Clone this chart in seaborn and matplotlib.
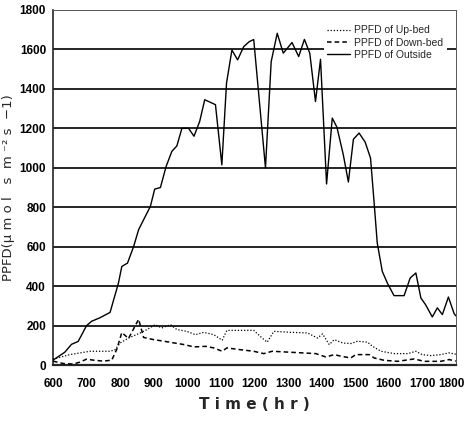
import matplotlib
matplotlib.use("Agg")
import matplotlib.pyplot as plt
import matplotlib.transforms as mtransforms
import seaborn as sns

# PPFD readings (hours of day, umol m-2 s-1)
outside_t = [6.0, 6.35, 6.55, 6.75, 7.0, 7.15, 7.4, 7.7, 7.95, 8.05, 8.22, 8.4, 8.55, 8.7, 8.9,
             9.03, 9.2, 9.37, 9.54, 9.69, 9.84, 10.04, 10.2, 10.37, 10.52, 10.84, 11.03, 11.17,
             11.33, 11.5, 11.68, 11.85, 11.98, 12.33, 12.5, 12.68, 12.86, 13.12, 13.32, 13.49,
             13.65, 13.82, 13.97, 14.15, 14.32, 14.46, 14.65, 14.8, 14.95, 15.12, 15.3, 15.46,
             15.56, 15.66, 15.81, 15.96, 16.16, 16.46, 16.64, 16.81, 16.96, 17.1, 17.3, 17.45,
             17.6, 17.78, 17.95, 18.0]
outside_v = [25, 65, 105, 120, 200, 222, 240, 267, 416, 500, 517, 600, 686, 737, 804,
             892, 900, 1007, 1083, 1111, 1200, 1200, 1160, 1235, 1345, 1320, 1015, 1430,
             1597, 1547, 1614, 1640, 1650, 1000, 1538, 1682, 1581, 1635, 1564, 1651,
             1581, 1336, 1550, 918, 1252, 1205, 1065, 928, 1145, 1176, 1130, 1049,
             838, 619, 475, 416, 352, 352, 441, 467, 340, 306, 244, 290,
             256, 345, 261, 250]

upbed_t = [6.0, 6.5, 7.1, 7.7, 7.85, 8.0, 8.25, 8.6, 8.8, 9.04, 9.24, 9.5, 9.69, 9.99, 10.24,
           10.49, 10.79, 11.04, 11.18, 11.6, 11.98, 12.23, 12.38, 12.58, 13.08, 13.58, 13.88,
           14.03, 14.23, 14.38, 14.63, 14.87, 15.07, 15.37, 15.52, 15.77, 16.17, 16.57, 16.81,
           17.0, 17.25, 17.55, 17.8, 18.0]
upbed_v = [30, 53, 70, 70, 78, 112, 137, 163, 180, 205, 188, 205, 180, 171, 154,
           166, 154, 126, 176, 176, 176, 137, 116, 171, 166, 163, 137,
           158, 104, 129, 112, 109, 121, 116, 95, 70, 58, 58, 70,
           53, 48, 53, 62, 55]

downbed_t = [6.0, 6.3, 6.6, 6.8, 7.0, 7.2, 7.5, 7.75, 7.9, 8.05, 8.25, 8.55, 8.7, 9.0, 9.3,
             9.9, 10.2, 10.54, 10.79, 11.04, 11.18, 11.58, 11.98, 12.28, 12.53, 13.08, 13.83,
             14.13, 14.38, 14.58, 14.87, 15.02, 15.42, 15.57, 15.87, 16.27, 16.76, 17.06,
             17.55, 17.8, 18.0]
downbed_v = [20, 8, 5, 15, 30, 25, 20, 25, 80, 165, 135, 232, 140, 129, 121,
             104, 92, 95, 87, 70, 87, 78, 70, 58, 70, 65, 58,
             41, 53, 45, 36, 53, 53, 36, 24, 19, 31, 19,
             19, 28, 20]

hour_ticks = list(range(6, 19))
hour_labels = ["%d00" % h for h in hour_ticks]
ppfd_ticks = list(range(0, 2000, 200))

sns.set_style("white")
plt.rcParams["font.family"] = ["Liberation Sans", "DejaVu Sans"]

fig = plt.figure(figsize=(4.67, 4.25), dpi=100)
ax = fig.add_axes([0.1135, 0.141, 0.8625, 0.8355])

# horizontal reference lines
for v in ppfd_ticks[1:-1]:
    ax.axhline(v, color="black", lw=1.2, zorder=1)

sns.lineplot(x=upbed_t, y=upbed_v, ax=ax, color="black", lw=0.9, linestyle=(0, (1, 1.5)),
             label="PPFD of Up-bed", sort=False, zorder=3)
sns.lineplot(x=downbed_t, y=downbed_v, ax=ax, color="black", lw=1.1, linestyle=(0, (3, 2)),
             label="PPFD of Down-bed", sort=False, zorder=3)
sns.lineplot(x=outside_t, y=outside_v, ax=ax, color="black", lw=1.0,
             label="PPFD of Outside", sort=False, zorder=3)

ax.set_xlim(6, 18)
ax.set_ylim(0, 1800)
ax.set_xticks(hour_ticks)
ax.set_xticklabels(hour_labels)
ax.set_yticks(ppfd_ticks)
ax.tick_params(axis="both", direction="in", length=4, width=1, labelsize=8.5, pad=9,
               colors="black")
ax.tick_params(axis="y", length=0, pad=5)
for lbl in ax.get_xticklabels() + ax.get_yticklabels():
    lbl.set_fontweight("bold")

# keep the last hour label inside the canvas
last = ax.get_xticklabels()[-1]
last.set_transform(last.get_transform() +
                   mtransforms.ScaledTranslation(-0.04, 0, fig.dpi_scale_trans))

ax.spines["left"].set_linewidth(1.2)
ax.spines["bottom"].set_linewidth(1.6)
for s in ["top", "right"]:
    ax.spines[s].set_linewidth(0.7)
    ax.spines[s].set_color("#555555")
    ax.spines[s].set_linestyle((0, (4, 1)))

ax.set_xlabel("T i m e ( h r )", fontsize=11, fontweight="bold",
              family=["DejaVu Sans"], labelpad=5)
ax.set_ylabel("PPFD(μ m o l   s  m ⁻² s  −1)", fontsize=9.5, family=["DejaVu Sans"],
              labelpad=3)

leg = ax.legend(loc="upper right", bbox_to_anchor=(0.99, 0.98), frameon=True,
                facecolor="white", edgecolor="none", framealpha=1, fontsize=7.5,
                handlelength=2.2, handletextpad=0.4, labelspacing=0.2, borderpad=0.3)

fig.savefig("out.png", dpi=100)
